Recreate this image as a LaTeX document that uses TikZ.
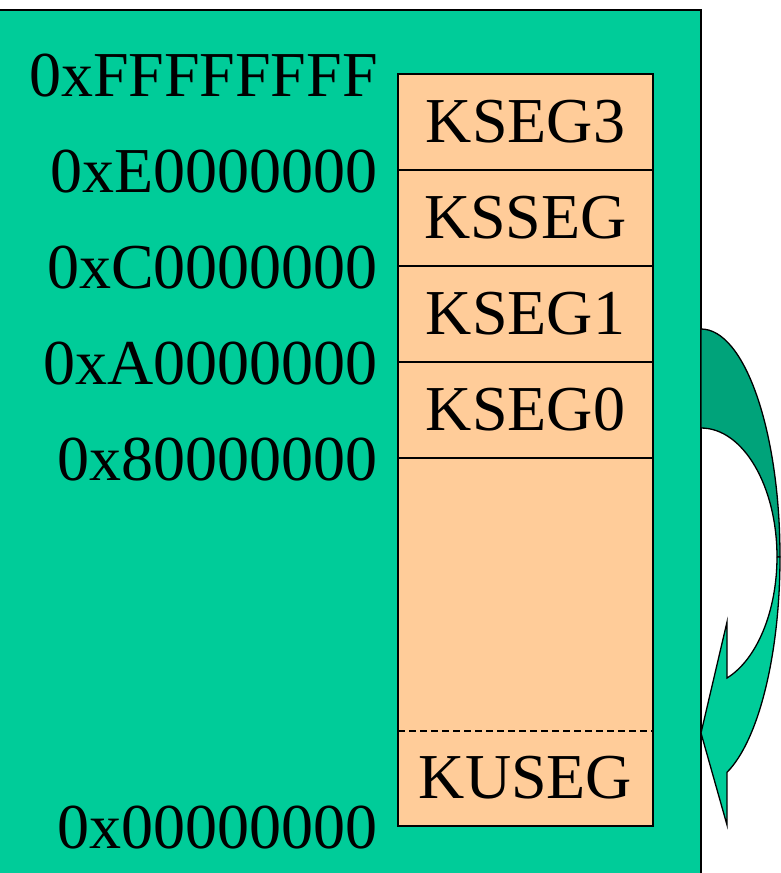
\documentclass[tikz,border=0pt]{standalone}
\usepackage{fontspec}
\setmainfont{Liberation Serif}
\definecolor{panelgreen}{HTML}{00CC99}
\definecolor{backgreen}{HTML}{00A37A}
\definecolor{segfill}{HTML}{FFCC99}
\begin{document}
\begin{tikzpicture}[x=1pt,y=-1pt,
  edge/.style={draw=black,line width=1.4pt},
  addr/.style={anchor=east,inner sep=0pt,font=\fontsize{64}{70}\selectfont},
  seg/.style={inner sep=0pt,font=\fontsize{64}{70}\selectfont}]
\useasboundingbox (0,0) rectangle (781,873);
% background panel
\fill[panelgreen] (0,10) rectangle (701,873);
\draw[edge] (0,10) -- (701,10) -- (701,873);
% address-space column
\fill[segfill] (398,74) rectangle (653,826);
\draw[line width=1.2pt] (398,74) rectangle (653,826);
\foreach \yy in {170,266,362,458}
  \draw[line width=1.2pt] (398,\yy) -- (653,\yy);
\draw[line width=1.2pt,dash pattern=on 7pt off 4pt] (398,731) -- (653,731);
% segment names
\node[seg] (kseg3) at (525.5,122) {KSEG3};
\node[seg] (ksseg) at (525.5,218) {KSSEG};
\node[seg] (kseg1) at (525.5,314) {KSEG1};
\node[seg] (kseg0) at (525.5,410) {KSEG0};
\node[seg] (kuseg) at (525.5,778) {KUSEG};
% boundary addresses
\node[addr] (aF) at (378,76) {0xFFFFFFFF};
\node[addr] (aE) at (378,172) {0xE0000000};
\node[addr] (aC) at (378,268) {0xC0000000};
\node[addr] (aA) at (378,364) {0xA0000000};
\node[addr] (a8) at (378,460) {0x80000000};
\node[addr] (a0) at (378,828) {0x00000000};
% curved arrow: back half
\filldraw[fill=backgreen,draw=black,line width=1.3pt,line join=round]
  (701,329) arc[start angle=-90,end angle=0,x radius=79,y radius=228]
  -- (777,557) arc[start angle=0,end angle=-90,x radius=76,y radius=129]
  -- cycle;
% curved arrow: front half with head
\filldraw[fill=panelgreen,draw=black,line width=1.3pt,line join=miter]
  (777,557) -- (780,557)
  arc[start angle=0,end angle=70.8,x radius=79,y radius=228]
  -- (727,825) -- (701,733) -- (727,622) -- (727,678)
  arc[start angle=70,end angle=0,x radius=76,y radius=129]
  -- cycle;
\end{tikzpicture}
\end{document}
